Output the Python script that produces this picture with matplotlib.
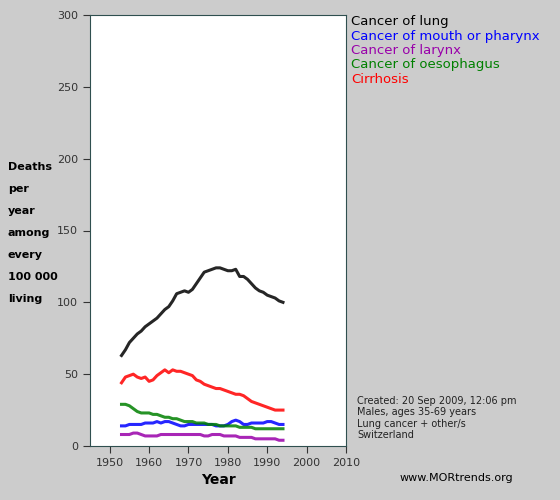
import matplotlib
matplotlib.use("Agg")
import matplotlib.pyplot as plt
import numpy as np

years = np.arange(1953, 1995)
lung = [63,67,72,75,78,80,83,85,87,89,92,95,97,101,106,107,108,107,109,113,117,121,122,123,124,124,123,122,122,123,118,118,116,113,110,108,107,105,104,103,101,100]
mouth = [14,14,15,15,15,15,16,16,16,17,16,17,17,16,15,14,14,15,15,15,15,15,15,15,14,14,14,15,17,18,17,15,15,16,16,16,16,17,17,16,15,15]
larynx = [8,8,8,9,9,8,7,7,7,7,8,8,8,8,8,8,8,8,8,8,8,7,7,8,8,8,7,7,7,7,6,6,6,6,5,5,5,5,5,5,4,4]
oeso = [29,29,28,26,24,23,23,23,22,22,21,20,20,19,19,18,17,17,17,16,16,16,15,15,15,14,14,14,14,14,13,13,13,13,12,12,12,12,12,12,12,12]
cirr = [44,48,49,50,48,47,48,45,46,49,51,53,51,53,52,52,51,50,49,46,45,43,42,41,40,40,39,38,37,36,36,35,33,31,30,29,28,27,26,25,25,25]
series = [("Cancer of lung", lung, "black"),
          ("Cancer of mouth or pharynx", mouth, "blue"),
          ("Cancer of larynx", larynx, "#9900aa"),
          ("Cancer of oesophagus", oeso, "green"),
          ("Cirrhosis", cirr, "red")]

W, H = 560, 500
fig = plt.figure(figsize=(5.6, 5.0), dpi=100, facecolor="#cccccc")
ax = fig.add_axes([90/W, 1-446/H, (346-90)/W, (446-15)/H])
ax.set_facecolor("white")
for name, vals, c in series:
    ax.plot(years, vals, color=c, lw=2.2, alpha=0.85)
ax.set_xlim(1945, 2010)
ax.set_ylim(0, 300)
ax.set_xticks(range(1950, 2011, 10))
ax.set_yticks(range(0, 301, 50))
ax.tick_params(labelsize=8, colors="#333333", length=5)
for s in ax.spines.values():
    s.set_color("#2f4f4f")
ax.set_xlabel("Year", fontsize=10, fontweight="bold")
lines = ["Deaths", "per", "year", "among", "every", "100 000", "living"]
for i, t in enumerate(lines):
    fig.text(8/W, 1-(167+22*i)/H, t, fontsize=8, fontweight="bold", va="center", ha="left")
for i, (name, vals, c) in enumerate(series):
    fig.text(351/W, 1-(22+14.3*i)/H, name, color=c, fontsize=9.5, va="center")
fig.text(357/W, 1-418/H, "Created: 20 Sep 2009, 12:06 pm\nMales, ages 35-69 years\nLung cancer + other/s\nSwitzerland",
         fontsize=7, va="center", color="#222222", linespacing=1.15)
fig.text(400/W, 1-478/H, "www.MORtrends.org", fontsize=8, va="center")
fig.savefig("out.png", dpi=100, facecolor=fig.get_facecolor())
